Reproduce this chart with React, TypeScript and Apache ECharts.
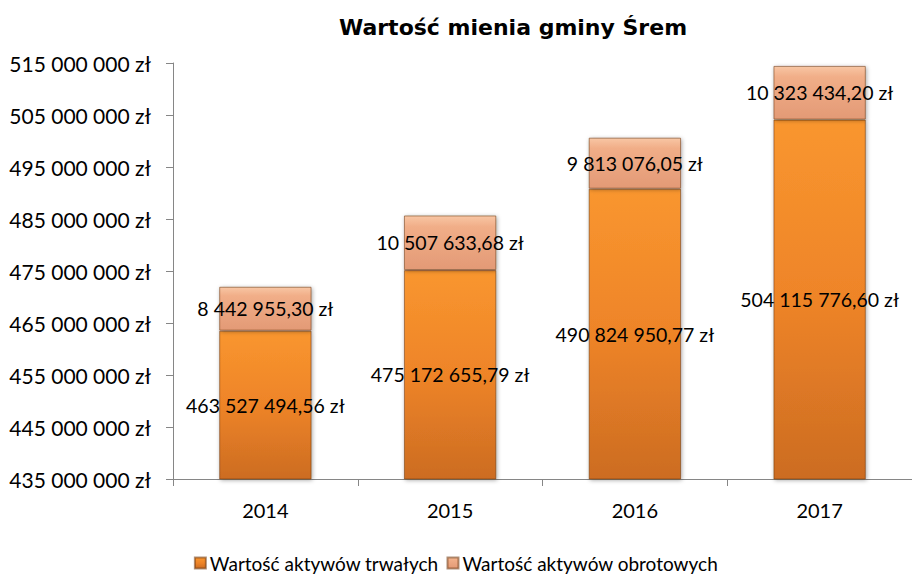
import React, { useEffect, useRef } from "react";
import * as echarts from "echarts";

const categories = ["2014", "2015", "2016", "2017"];
const fixedAssets = [463527494.56, 475172655.79, 490824950.77, 504115776.6];
const currentAssets = [8442955.3, 10507633.68, 9813076.05, 10323434.2];
const seriesNames = ["Wartość aktywów trwałych", "Wartość aktywów obrotowych"];
const yTicks = [435000000, 445000000, 455000000, 465000000, 475000000, 485000000, 495000000, 505000000, 515000000];
const titleText = "Wartość mienia gminy Śrem";

const FONT = "Lato";

function groupThousands(s: string): string {
  return s.replace(/\B(?=(\d{3})+(?!\d))/g, " ");
}
function fmtMoney(v: number): string {
  const [i, d] = v.toFixed(2).split(".");
  return groupThousands(i) + "," + d + " zł";
}
function fmtAxis(v: number): string {
  return groupThousands(Math.round(v).toString()) + " zł";
}

const bottomColor = new echarts.graphic.LinearGradient(0, 0, 0, 1, [
  { offset: 0, color: "#F9962F" },
  { offset: 0.5, color: "#EE8428" },
  { offset: 1, color: "#CC6C22" },
]);
const topColor = new echarts.graphic.LinearGradient(0, 0, 0, 1, [
  { offset: 0, color: "#F8C6A4" },
  { offset: 0.2, color: "#F1AE88" },
  { offset: 1, color: "#E39A76" },
]);

export default function App() {
  const ref = useRef<HTMLDivElement>(null);
  useEffect(() => {
    document.body.style.margin = "0";
    if (!ref.current) return;
    const chart = echarts.init(ref.current, undefined, { renderer: "svg" });
    const labelStyle = {
      show: true,
      position: "inside" as const,
      color: "#000",
      fontFamily: FONT,
      fontSize: 19.5,
      formatter: (p: any) => fmtMoney(p.value),
    };
    const barStyleCommon = {
      borderColor: "rgba(110,55,15,0.55)",
      borderWidth: 1,
      shadowColor: "rgba(0,0,0,0.35)",
      shadowBlur: 4,
      shadowOffsetX: 1,
      shadowOffsetY: 1,
    };
    chart.setOption({
      animation: false,
      textStyle: { fontFamily: FONT },
      graphic: [
        {
          type: "text",
          x: 513,
          y: 27,
          style: {
            text: titleText,
            fontFamily: "DejaVu Sans",
            fontSize: 22,
            fontWeight: "bold",
            fill: "#000",
            align: "center",
            verticalAlign: "middle",
          },
        },
      ],
      legend: {
        top: 553,
        left: "center",
        padding: 0,
        itemWidth: 11,
        itemHeight: 11,
        itemGap: 8,
        icon: "rect",
        textStyle: { fontFamily: FONT, fontSize: 19, lineHeight: 20, color: "#000", padding: [0, 0, 0, -1] },
        data: seriesNames,
      },
      grid: { left: 173, right: -11, top: 63, bottom: 96, containLabel: false },
      xAxis: {
        type: "category",
        data: categories,
        axisLine: { lineStyle: { color: "#868686", width: 1 } },
        axisTick: { show: true, length: 7, lineStyle: { color: "#868686" } },
        axisLabel: { color: "#000", fontFamily: FONT, fontSize: 20, margin: 21 },
      },
      yAxis: {
        type: "value",
        min: yTicks[0],
        max: yTicks[yTicks.length - 1],
        axisLine: { show: true, lineStyle: { color: "#868686", width: 1 } },
        axisTick: { show: true, length: 7, inside: false, lineStyle: { color: "#868686" }, customValues: yTicks },
        axisLabel: {
          color: "#000",
          fontFamily: FONT,
          fontSize: 21,
          margin: 22,
          customValues: yTicks,
          formatter: (v: number) => fmtAxis(v),
        },
        splitLine: { show: false },
      },
      series: [
        {
          name: seriesNames[0],
          type: "bar",
          stack: "total",
          barWidth: "50%",
          data: fixedAssets,
          itemStyle: { color: bottomColor, ...barStyleCommon },
          label: labelStyle,
        },
        {
          name: seriesNames[1],
          type: "bar",
          stack: "total",
          barWidth: "50%",
          data: currentAssets,
          itemStyle: { color: topColor, ...barStyleCommon },
          label: labelStyle,
        },
      ],
    });
    return () => chart.dispose();
  }, []);
  return <div ref={ref} style={{ width: 912, height: 575 }} />;
}
